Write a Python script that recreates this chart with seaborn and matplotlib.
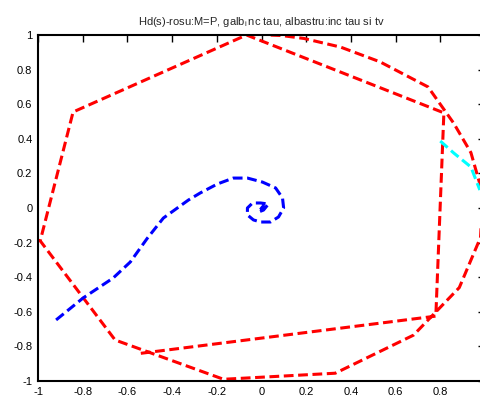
import numpy as np
import pandas as pd
import matplotlib
matplotlib.use("Agg")
import matplotlib.pyplot as plt
import seaborn as sns

# red path (M=P)
red_x = [-0.54, 0.78, 0.816, -0.067, -0.843, -0.99, -0.655, -0.17, 0.33, 0.68,
         0.885, 0.98, 0.99, 0.937, 0.86, 0.745, 0.53, 0.354, 0.19, 0.09, 0.03]
red_y = [-0.84, -0.625, 0.55, 1.0, 0.555, -0.19, -0.763, -0.99, -0.955, -0.735,
         -0.46, -0.17, 0.08, 0.32, 0.49, 0.70, 0.845, 0.93, 0.98, 0.997, 1.0]

# cyan arc
cyan_x = [0.80, 0.86, 0.937, 0.977]
cyan_y = [0.387, 0.318, 0.237, 0.104]

# blue spiral
blue_x = [-0.919, -0.798, -0.664, -0.587, -0.511, -0.439, -0.327, -0.274, -0.197,
          -0.126, -0.063, 0.004, 0.063, 0.094, 0.099, 0.076, 0.040, -0.004, -0.036,
          -0.063, -0.063, -0.040, -0.004, 0.031, 0.009, -0.013, 0.004, 0.013]
blue_y = [-0.647, -0.52, -0.405, -0.312, -0.175, -0.058, 0.046, 0.087, 0.139,
          0.173, 0.173, 0.150, 0.116, 0.058, 0.0, -0.052, -0.081, -0.081, -0.069,
          -0.040, 0.0, 0.029, 0.029, 0.023, -0.012, -0.023, 0.006, 0.017]

ticks = [-1, -0.8, -0.6, -0.4, -0.2, 0, 0.2, 0.4, 0.6, 0.8, 1]
tick_labels = ["-1", "-0.8", "-0.6", "-0.4", "-0.2", "0", "0.2", "0.4", "0.6", "0.8", "1"]

sns.set_style("white")
plt.rcParams["font.family"] = ["Liberation Sans", "DejaVu Sans"]
plt.rcParams["mathtext.fontset"] = "custom"
plt.rcParams["mathtext.rm"] = "Liberation Sans"

fig = plt.figure(figsize=(4.81, 3.99), dpi=100)
ax = fig.add_axes([38 / 481, 18 / 399, 447 / 481, 346 / 399])

series = [(red_x, red_y, (1, 0, 0)), (cyan_x, cyan_y, (0, 1, 1)), (blue_x, blue_y, (0, 0, 1))]
for xs, ys, col in series:
    df = pd.DataFrame({"x": xs, "y": ys})
    sns.lineplot(data=df, x="x", y="y", sort=False, estimator=None, ax=ax,
                 color=col, linewidth=2.2, dashes=False)
    ax.lines[-1].set_dashes((3.2, 1.5))

ax.set_xlim(-1, 1)
ax.set_ylim(-1, 1)
ax.set_xticks(ticks)
ax.set_xticklabels(tick_labels)
ax.set_yticks(ticks)
ax.set_yticklabels(tick_labels)
ax.set_xlabel("")
ax.set_ylabel("")
ax.tick_params(direction="in", length=5, width=1, labelsize=8, colors="black",
               top=True, right=True, pad=4)
for sp in ax.spines.values():
    sp.set_visible(True)
    sp.set_color("black")
    sp.set_linewidth(1.5)

ax.set_title(r"Hd(s)-rosu:M=P, galb$_{\mathregular{i}}\,$nc tau, albastru:inc tau si tv",
             fontsize=8, pad=7)

fig.savefig("out.png", dpi=100)
